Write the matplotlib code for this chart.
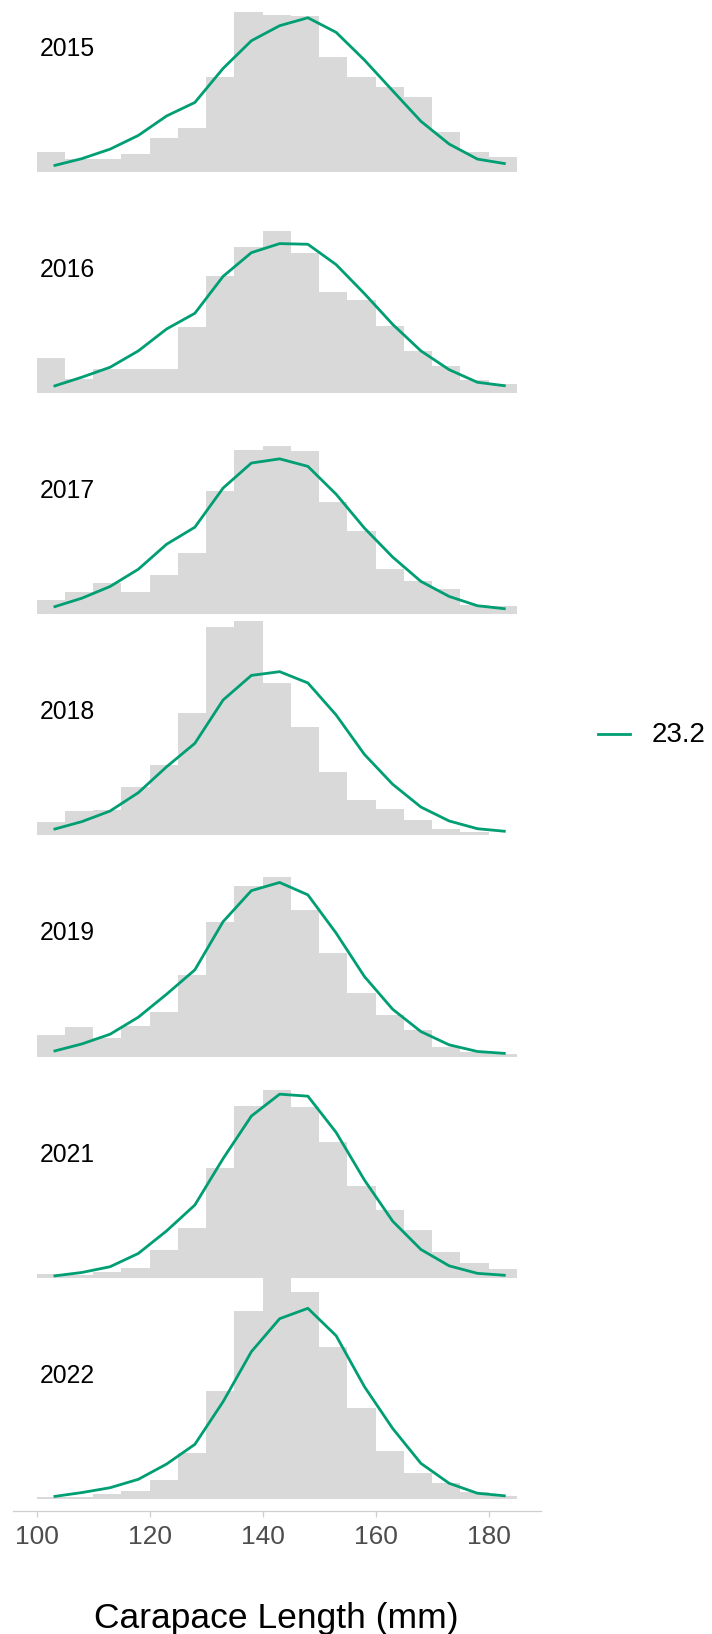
import numpy as np
import matplotlib
matplotlib.use("Agg")
import matplotlib.pyplot as plt
from matplotlib.lines import Line2D

plt.rcParams['font.family'] = ['Liberation Sans', 'DejaVu Sans']

# ---------------- data ----------------
years = ["2015", "2016", "2017", "2018", "2019", "2021", "2022"]
bin_edges = [100, 105, 110, 115, 120, 125, 130, 135, 140, 145,
             150, 155, 160, 165, 170, 175, 180, 185]
line_x = [103, 108, 113, 118, 123, 128, 133, 138, 143, 148,
          153, 158, 163, 168, 173, 178, 183]
x_ticks = [100, 120, 140, 160, 180]
series_label = "23.2"
x_label = "Carapace Length (mm)"

# histogram heights (in units of ridge spacing)
bars_2015 = [0.090, 0.057, 0.058, 0.080, 0.154, 0.197, 0.429, 0.720, 0.710,
             0.705, 0.518, 0.426, 0.383, 0.336, 0.178, 0.089, 0.066]
bars_2016 = [0.158, 0.063, 0.110, 0.107, 0.110, 0.298, 0.527, 0.660, 0.732,
             0.634, 0.454, 0.422, 0.303, 0.190, 0.121, 0.059, 0.042]
bars_2017 = [0.063, 0.102, 0.142, 0.102, 0.178, 0.277, 0.556, 0.741, 0.759,
             0.738, 0.508, 0.377, 0.206, 0.152, 0.115, 0.042, 0.038]
bars_2018 = [0.062, 0.112, 0.115, 0.220, 0.319, 0.552, 0.943, 0.967, 0.690,
             0.491, 0.285, 0.160, 0.118, 0.069, 0.027, 0.014, 0.003]
bars_2019 = [0.096, 0.133, 0.086, 0.140, 0.200, 0.369, 0.607, 0.769, 0.811,
             0.663, 0.470, 0.288, 0.190, 0.121, 0.045, 0.020, 0.012]
bars_2021 = [0.015, 0.014, 0.024, 0.044, 0.124, 0.223, 0.496, 0.775, 0.850,
             0.772, 0.615, 0.414, 0.306, 0.214, 0.116, 0.068, 0.041]
bars_2022 = [0.008, 0.011, 0.023, 0.036, 0.086, 0.206, 0.488, 0.850, 1.000,
             0.934, 0.689, 0.413, 0.219, 0.116, 0.074, 0.030, 0.014]

# fitted line heights (in units of ridge spacing)
line_2015 = [0.027, 0.059, 0.102, 0.164, 0.252, 0.313, 0.467, 0.592, 0.660,
             0.696, 0.630, 0.505, 0.366, 0.228, 0.125, 0.057, 0.036]
line_2016 = [0.030, 0.071, 0.116, 0.190, 0.289, 0.360, 0.527, 0.634, 0.675,
             0.672, 0.580, 0.449, 0.310, 0.190, 0.105, 0.048, 0.032]
line_2017 = [0.032, 0.072, 0.125, 0.203, 0.316, 0.393, 0.570, 0.683, 0.702,
             0.668, 0.542, 0.389, 0.258, 0.148, 0.080, 0.038, 0.024]
line_2018 = [0.027, 0.062, 0.110, 0.193, 0.310, 0.416, 0.612, 0.723, 0.740,
             0.689, 0.544, 0.366, 0.231, 0.128, 0.065, 0.030, 0.018]
line_2019 = [0.024, 0.057, 0.101, 0.178, 0.282, 0.392, 0.610, 0.750, 0.787,
             0.731, 0.558, 0.362, 0.214, 0.113, 0.053, 0.023, 0.014]
line_2021 = [0.008, 0.024, 0.050, 0.110, 0.212, 0.329, 0.539, 0.731, 0.830,
             0.821, 0.657, 0.442, 0.256, 0.128, 0.054, 0.020, 0.011]
line_2022 = [0.011, 0.029, 0.051, 0.089, 0.158, 0.247, 0.440, 0.666, 0.815,
             0.862, 0.738, 0.508, 0.319, 0.161, 0.071, 0.026, 0.014]

bars = [bars_2015, bars_2016, bars_2017, bars_2018, bars_2019, bars_2021, bars_2022]
lines = [line_2015, line_2016, line_2017, line_2018, line_2019, line_2021, line_2022]

# ---------------- style ----------------
BAR_COLOR = "#d9d9d9"
LINE_COLOR = "#009E73"
AXIS_GREY = "#cfcfcf"
TICKLABEL_GREY = "#4d4d4d"

W, H = 712, 1634
fig = plt.figure(figsize=(W / 100, H / 100), dpi=100)

ax_left_px, ax_right_px = 12.6, 541.0
ax_bottom_px, ax_top_px = 1510.7, 0.0
ax = fig.add_axes([ax_left_px / W, 1 - ax_bottom_px / H,
                   (ax_right_px - ax_left_px) / W,
                   (ax_bottom_px - ax_top_px) / H])

n = len(years)
for i, yr in enumerate(years):
    base = n - 1 - i
    ax.stairs(np.array(bars[i]) + base, bin_edges, baseline=base, fill=True,
              color=BAR_COLOR, linewidth=0, zorder=1)

for i, yr in enumerate(years):
    base = n - 1 - i
    ax.plot(line_x, np.array(lines[i]) + base, color=LINE_COLOR, lw=2.0,
            solid_joinstyle='round', solid_capstyle='butt', zorder=3)
    ax.text(100.5, base + 0.525, yr, fontsize=17.8, color="black",
            ha='left', va='baseline', zorder=4)

ax.set_xlim(95.75, 189.25)
ax.set_ylim(-0.0529, 6.7762)
ax.set_xticks(x_ticks)
ax.set_xticklabels([str(t) for t in x_ticks])
ax.set_yticks([])
for s in ['left', 'right', 'top']:
    ax.spines[s].set_visible(False)
ax.spines['bottom'].set_color(AXIS_GREY)
ax.spines['bottom'].set_linewidth(0.9)
ax.tick_params(axis='x', colors=AXIS_GREY, length=4.1, width=0.9, pad=6,
               labelsize=19, labelcolor=TICKLABEL_GREY)
ax.patch.set_alpha(0)

# x label
fig.text((ax_left_px + ax_right_px) / 2 / W, 1 - 1628 / H, x_label,
         ha='center', va='baseline', fontsize=25.5, color='black')

# legend
fig.add_artist(Line2D([598 / W, 630 / W], [1 - 734 / H, 1 - 734 / H],
                      transform=fig.transFigure, color=LINE_COLOR, lw=2.0))
fig.text(651.7 / W, 1 - 735 / H, series_label, ha='left', va='center',
         fontsize=20, color='black')

fig.savefig("out.png", dpi=100)
